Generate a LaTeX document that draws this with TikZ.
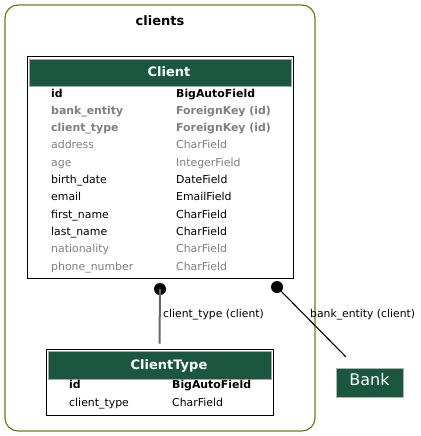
\documentclass[tikz,border=0pt]{standalone}
\usepackage{fontspec}
\setmainfont{DejaVu Sans}
\usetikzlibrary{positioning}

\definecolor{hdrgreen}{HTML}{1B5640}
\definecolor{appgreen}{HTML}{5F8418}
\definecolor{fadegray}{HTML}{7F7F7F}

\tikzset{
    col/.style={anchor=base west, inner sep=0pt, font=\fontsize{10.9}{12}\selectfont},
    colgray/.style={col, text=fadegray},
    colkey/.style={col, font=\fontsize{10.9}{12}\selectfont\bfseries},
    colkeygray/.style={colkey, text=fadegray},
    tablebox/.style={draw=black, line width=0.9pt, inner sep=0pt, fill=white},
    tablehdr/.style={fill=hdrgreen, draw=gray!70, inner sep=0pt},
    hdrtext/.style={anchor=base, inner sep=0pt, text=white, font=\fontsize{13}{15}\selectfont\bfseries},
    fkdot/.style={circle, fill=black, inner sep=0pt, minimum size=12pt},
    edgelbl/.style={anchor=base west, inner sep=0pt, font=\fontsize{10.8}{12}\selectfont}
}

\begin{document}
\begin{tikzpicture}[x=1pt, y=-1pt]
        \useasboundingbox (0,0) rectangle (420,436);

        % The app box
        \draw[appgreen, line width=1.2pt, rounded corners=13pt] (5,5) rectangle (315,431);
        \node[anchor=base, inner sep=0pt, font=\fontsize{13}{15}\selectfont\bfseries] (appLbl) at (160,26) {clients};

        % The Client table
        \node[tablebox, minimum width=266pt, minimum height=222pt] (clientBox) at (160,167) {};
        \node[tablehdr, minimum width=262pt, minimum height=27pt] (clientHdr) at (160.5,72.5) {};
        \node[hdrtext] (clientName) at (169,76) {Client};

        % Client fields
        \node[colkey] (cfId) at (51,97) {id};
        \node[colkeygray] (cfBank) at (51,114.3) {bank\_entity};
        \node[colkeygray] (cfType) at (51,131.6) {client\_type};
        \node[colgray] (cfAddr) at (51,148.9) {address};
        \node[colgray] (cfAge) at (51,166.2) {age};
        \node[col] (cfBirth) at (51,183.5) {birth\_date};
        \node[col] (cfMail) at (51,200.8) {email};
        \node[col] (cfFirst) at (51,218.1) {first\_name};
        \node[col] (cfLast) at (51,235.4) {last\_name};
        \node[colgray] (cfNat) at (51,252.7) {nationality};
        \node[colgray] (cfPhone) at (51,270) {phone\_number};

        % Client types
        \node[colkey] (ctId) at (176,97) {BigAutoField};
        \node[colkeygray] (ctBank) at (176,114.3) {ForeignKey (id)};
        \node[colkeygray] (ctType) at (176,131.6) {ForeignKey (id)};
        \node[colgray] (ctAddr) at (176,148.9) {CharField};
        \node[colgray] (ctAge) at (176,166.2) {IntegerField};
        \node[col] (ctBirth) at (176,183.5) {DateField};
        \node[col] (ctMail) at (176,200.8) {EmailField};
        \node[col] (ctFirst) at (176,218.1) {CharField};
        \node[col] (ctLast) at (176,235.4) {CharField};
        \node[colgray] (ctNat) at (176,252.7) {CharField};
        \node[colgray] (ctPhone) at (176,270) {CharField};

        % The ClientType table
        \node[tablebox, minimum width=227pt, minimum height=66pt] (typeBox) at (159.5,382) {};
        \node[tablehdr, minimum width=223pt, minimum height=28pt] (typeHdr) at (159.5,365) {};
        \node[hdrtext] (typeName) at (169,369) {ClientType};
        \node[colkey] (tfId) at (69,388) {id};
        \node[col] (tfName) at (69,406) {client\_type};
        \node[colkey] (ttId) at (172,388) {BigAutoField};
        \node[col] (ttName) at (172,406) {CharField};

        % The Bank box
        \node[fill=hdrgreen, draw=gray!60, minimum width=67pt, minimum height=29pt, inner sep=0pt] (bankBox) at (369.5,382.5) {};
        \node[anchor=base, inner sep=0pt, text=white, font=\fontsize{16}{18}\selectfont] (bankName) at (bankBox.center |- 0,385) {Bank};

        % The foreign keys
        \node[fkdot] (typeDot) at (160,289) {};
        \node[fkdot] (bankDot) at (277,287) {};
        \coordinate (typeEnd) at ([yshift=5pt]typeBox.north);
        \coordinate (bankEnd) at ([xshift=10pt, yshift=11pt]bankBox.north west);
        \draw[gray!80!black, line width=2pt] (typeDot.center) -- (typeEnd);
        \draw[black, line width=1.1pt] (bankDot.center) -- (bankEnd);
        \node[edgelbl] (typeLbl) at (163,317) {client\_type (client)};
        \node[edgelbl] (bankLbl) at (310,317) {bank\_entity (client)};
\end{tikzpicture}
\end{document}
